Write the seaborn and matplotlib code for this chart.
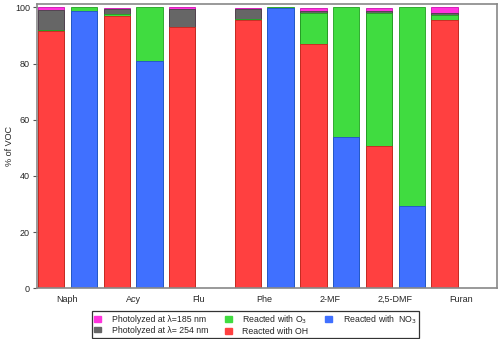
import numpy as np
import pandas as pd
import matplotlib
matplotlib.use('Agg')
import matplotlib.pyplot as plt
from matplotlib.patches import Patch
import seaborn as sns

# data (% of VOC)
groups = ['Naph', 'Acy', 'Flu', 'Phe', '2-MF', '2,5-DMF', 'Furan']
# left bar of each pair: OH experiment
oh = [91.5, 97.1, 92.9, 95.6, 87.0, 50.7, 95.7]
o3_left = [0.4, 0.5, 0.3, 0.3, 11.1, 47.4, 1.5]
p254_left = [7.2, 1.9, 6.1, 3.7, 0.8, 0.8, 0.9]
p185_left = [0.9, 0.2, 0.7, 0.2, 0.9, 0.9, 1.9]
# right bar of each pair: NO3 experiment (nan = no bar)
no3 = [98.6, 80.8, np.nan, 99.8, 53.8, 29.3, np.nan]
o3_right = [1.4, 19.2, np.nan, 0.2, 46.2, 70.7, np.nan]

RED = '#ff4040'
BLUE = '#4070ff'
GREEN = '#40dc40'
GRAY = '#666666'
MAGENTA = '#ff33dd'

rows = []
for i, g in enumerate(groups):
    rows.append(dict(slot=2 * i, kind='OH', base=oh[i], o3=o3_left[i],
                     p254=p254_left[i], p185=p185_left[i]))
    rows.append(dict(slot=2 * i + 1, kind='NO3', base=no3[i], o3=o3_right[i],
                     p254=np.nan, p185=np.nan))
df = pd.DataFrame(rows)
df['c_o3'] = df['base'] + df['o3']
df['c254'] = df['c_o3'] + df['p254']
df['c185'] = df['c254'] + df['p185']

sns.set_style('white')
plt.rcParams['font.family'] = ['Liberation Sans', 'DejaVu Sans']

fig = plt.figure(figsize=(5, 3.39), dpi=100)
ax = fig.add_axes([0.074, 0.150, 0.920, 0.838])

order = list(range(14))
common = dict(x='slot', order=order, width=0.8, errorbar=None, ax=ax,
              linewidth=0.6, saturation=1)

# stacked bars: draw cumulative totals from the top layer down
sns.barplot(data=df, y='c185', color=MAGENTA, edgecolor='#cc10b0', **common)
sns.barplot(data=df, y='c254', color=GRAY, edgecolor='#444444', **common)
sns.barplot(data=df, y='c_o3', color=GREEN, edgecolor='#20a020', **common)
sns.barplot(data=df[df['kind'] == 'OH'], y='base', color=RED, edgecolor='#d02020', **common)
sns.barplot(data=df[df['kind'] == 'NO3'], y='base', color=BLUE, edgecolor='#2050d0', **common)

ax.set_xlim(-0.43, 13.6)
ax.set_ylim(0, 101.2)
ax.set_xlabel('')
ax.set_ylabel('% of VOC', fontsize=6.5, labelpad=1)

ax.set_xticks([2 * i + 0.5 for i in range(len(groups))])
ax.set_xticklabels(groups)
ax.set_xticks([2 * i + 1.5 for i in range(len(groups) - 1)], minor=True)
ax.tick_params(axis='x', which='major', length=0, labelsize=6.5, pad=5)
ax.tick_params(axis='x', which='minor', direction='in', length=4, width=0.8, color='#555555')
ax.set_yticks([0, 20, 40, 60, 80, 100])
ax.tick_params(axis='y', left=True, direction='out', length=3, width=0.8,
               color='#555555', labelsize=6.5, pad=2)

for s in ax.spines.values():
    s.set_color('#888888')
    s.set_linewidth(1.2)

handles = [
    Patch(facecolor=MAGENTA, edgecolor=MAGENTA, label='Photolyzed at λ=185 nm'),
    Patch(facecolor=GRAY, edgecolor=GRAY, label='Photolyzed at λ= 254 nm'),
    Patch(facecolor=GREEN, edgecolor=GREEN, label='Reacted with O$_3$'),
    Patch(facecolor=RED, edgecolor=RED, label='Reacted with OH'),
    Patch(facecolor=BLUE, edgecolor=BLUE, label='Reacted with  NO$_3$'),
]
leg = ax.legend(handles=handles, ncol=3, loc='upper center',
                bbox_to_anchor=(0.511, 0.083), bbox_transform=fig.transFigure,
                fontsize=6.3, frameon=True, fancybox=False, handlelength=0.8,
                handleheight=0.6, handletextpad=1.2, columnspacing=1.9,
                labelspacing=0.2, borderpad=0.25, borderaxespad=0)
leg.get_frame().set_edgecolor('black')
leg.get_frame().set_linewidth(0.9)

fig.savefig('out.png', dpi=100)
